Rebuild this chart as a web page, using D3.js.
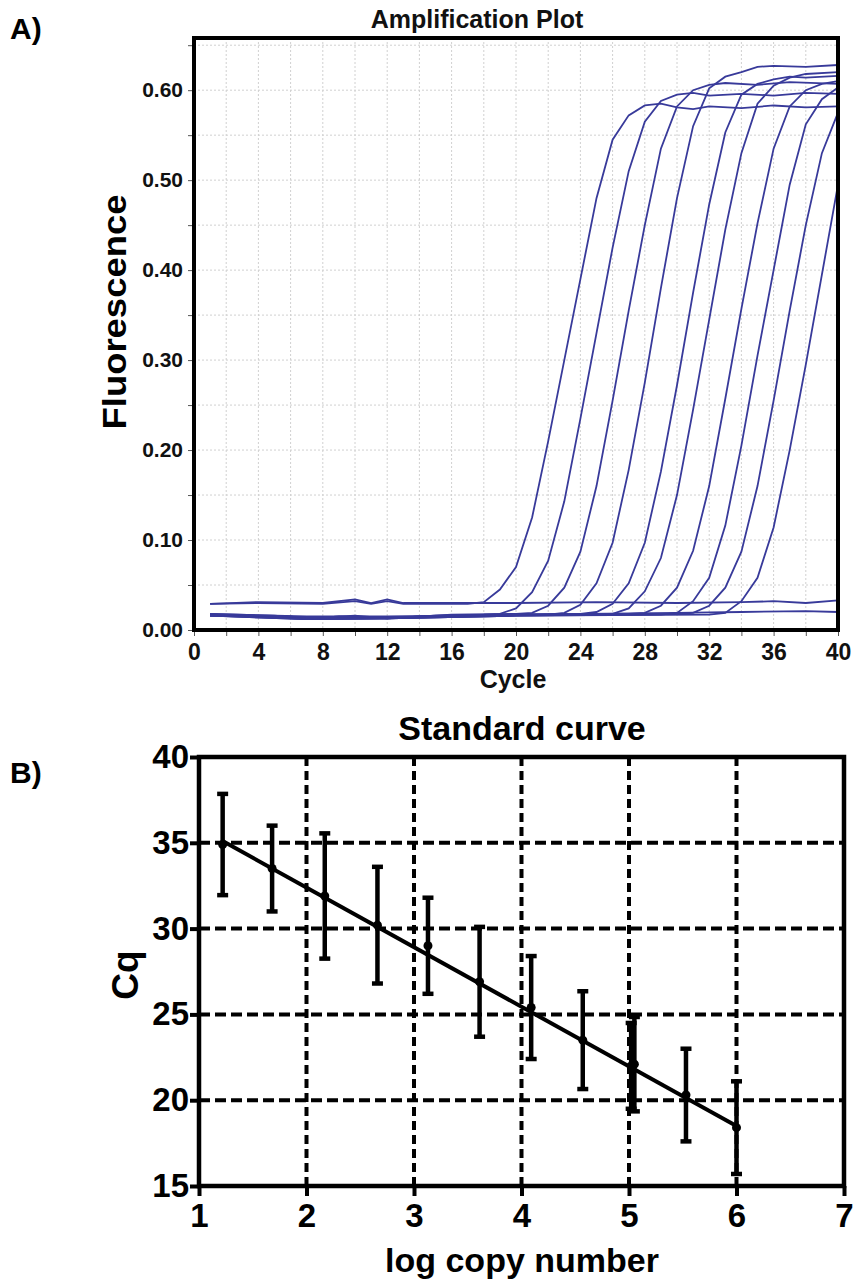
<!DOCTYPE html>
<html>
<head>
<meta charset="UTF-8">
<script src="https://cdn.jsdelivr.net/npm/d3@7"></script>
<style>
body{
    margin:0;
    background:#fff;
    font-family: "Liberation Sans", Arial, sans-serif;
}
</style>
</head>
<body>
<script>
// amplification curves: [cycle, fluorescence]
var curve1 = [[1,0.029],[4,0.030],[8,0.029],[10,0.032],[11,0.029],[12,0.032],[13,0.029],[17,0.029],[18,0.031],[19,0.045],[20,0.07],[21,0.125],[22,0.21],[23,0.30],[24,0.39],[25,0.48],[26,0.545],[27,0.572],[28,0.583],[29,0.585],[30,0.581],[31,0.579],[32,0.582],[34,0.580],[36,0.583],[38,0.581],[40,0.582]]
var curve2 = [[1,0.016],[4,0.015],[7,0.012],[9,0.015],[12,0.013],[15,0.016],[18,0.017],[19,0.018],[20,0.024],[21,0.042],[22,0.077],[23,0.143],[24,0.235],[25,0.33],[26,0.425],[27,0.51],[28,0.565],[29,0.588],[30,0.595],[31,0.597],[32,0.594],[34,0.596],[36,0.594],[38,0.597],[40,0.596]]
var curve3 = [[1,0.018],[5,0.016],[7,0.013],[10,0.016],[12,0.013],[16,0.017],[20,0.018],[21,0.019],[22,0.027],[23,0.047],[24,0.087],[25,0.16],[26,0.255],[27,0.355],[28,0.45],[29,0.535],[30,0.582],[31,0.60],[32,0.606],[33,0.608],[35,0.606],[37,0.609],[40,0.607]]
var curve4 = [[1,0.016],[6,0.015],[7,0.012],[12,0.013],[18,0.016],[22,0.017],[23,0.019],[24,0.028],[25,0.052],[26,0.097],[27,0.178],[28,0.275],[29,0.38],[30,0.48],[31,0.56],[32,0.602],[33,0.615],[34,0.62],[35,0.626],[36,0.627],[38,0.626],[40,0.628]]
var curve5 = [[1,0.017],[7,0.013],[12,0.014],[20,0.017],[24,0.018],[25,0.02],[26,0.029],[27,0.052],[28,0.097],[29,0.176],[30,0.272],[31,0.375],[32,0.473],[33,0.553],[34,0.595],[35,0.607],[36,0.612],[37,0.615],[38,0.614],[40,0.616]]
var curve6 = [[1,0.016],[7,0.012],[12,0.013],[20,0.016],[25,0.017],[26,0.018],[27,0.024],[28,0.043],[29,0.08],[30,0.15],[31,0.245],[32,0.345],[33,0.445],[34,0.53],[35,0.585],[36,0.605],[37,0.614],[38,0.618],[40,0.62]]
var curve7 = [[1,0.017],[7,0.014],[12,0.014],[20,0.017],[27,0.018],[28,0.019],[29,0.027],[30,0.047],[31,0.088],[32,0.16],[33,0.257],[34,0.357],[35,0.452],[36,0.535],[37,0.582],[38,0.60],[39,0.607],[40,0.61]]
var curve8 = [[1,0.016],[7,0.013],[12,0.013],[20,0.016],[29,0.017],[30,0.019],[31,0.032],[32,0.058],[33,0.116],[34,0.205],[35,0.305],[36,0.40],[37,0.495],[38,0.562],[39,0.59],[40,0.603]]
var curve9 = [[1,0.017],[7,0.014],[12,0.014],[20,0.017],[30,0.018],[31,0.019],[32,0.027],[33,0.047],[34,0.087],[35,0.16],[36,0.255],[37,0.355],[38,0.45],[39,0.53],[40,0.575]]
var curve10 = [[1,0.016],[7,0.012],[12,0.013],[20,0.016],[32,0.017],[33,0.019],[34,0.032],[35,0.058],[36,0.114],[37,0.20],[38,0.295],[39,0.395],[40,0.495]]
var ntc1 = [[1,0.029],[4,0.031],[8,0.030],[10,0.034],[11,0.030],[12,0.034],[13,0.030],[20,0.030],[25,0.031],[30,0.030],[34,0.031],[36,0.032],[38,0.030],[40,0.033]]
var ntc2 = [[1,0.018],[7,0.015],[12,0.015],[20,0.017],[30,0.019],[34,0.020],[38,0.021],[40,0.020]]
var curves = [curve1, curve2, curve3, curve4, curve5, curve6, curve7, curve8, curve9, curve10, ntc1, ntc2]

var cycleTicks = [0,4,8,12,16,20,24,28,32,36,40]
var fluorTicks = [0,0.1,0.2,0.3,0.4,0.5,0.6]

// standard curve
var logCopy = [1.22, 1.68, 2.17, 2.66, 3.13, 3.61, 4.09, 4.57, 5.02, 5.05, 5.53, 6.0]
var cqMean  = [34.9, 33.5, 31.9, 30.2, 29.0, 26.9, 25.4, 23.5, 22.0, 22.1, 20.3, 18.4]
var cqErr   = [2.95, 2.5, 3.65, 3.4, 2.8, 3.2, 3.0, 2.85, 2.5, 2.75, 2.7, 2.7]
var fitX = [1.22, 6.0]
var fitY = [35.1, 18.5]
var logTicks = [1,2,3,4,5,6,7]
var cqTicks = [15,20,25,30,35,40]

var width = 857, height = 1286
var svg = d3.select('body').append('svg')
    .attr('width', width)
    .attr('height', height)

svg.append('rect').attr('width', width).attr('height', height).attr('fill', 'white')

// ---------- panel A ----------
var x1 = d3.scaleLinear().domain([0, 40]).range([194, 838])
var y1 = d3.scaleLinear().domain([0, 0.658]).range([630, 38])

var gA = svg.append('g')

gA.selectAll('.vg').data(d3.range(2, 40, 2)).enter().append('line')
    .attr('x1', d => x1(d)).attr('x2', d => x1(d))
    .attr('y1', y1.range()[1]).attr('y2', y1.range()[0])
    .attr('stroke', '#d0d0d0').attr('stroke-width', 1).attr('stroke-dasharray', '2,2')
gA.selectAll('.hg').data(d3.range(0.05, 0.66, 0.05)).enter().append('line')
    .attr('x1', x1.range()[0]).attr('x2', x1.range()[1])
    .attr('y1', d => y1(d)).attr('y2', d => y1(d))
    .attr('stroke', '#d0d0d0').attr('stroke-width', 1).attr('stroke-dasharray', '2,2')

var line1 = d3.line().x(d => x1(d[0])).y(d => y1(d[1]))
gA.selectAll('.amp').data(curves).enter().append('path')
    .attr('d', line1)
    .attr('fill', 'none')
    .attr('stroke', '#383a9a')
    .attr('stroke-width', 1.8)

// axes
var xAxisA = d3.axisBottom(x1).tickValues(d3.range(0, 41, 2)).tickSize(6)
    .tickFormat(d => cycleTicks.indexOf(d) >= 0 ? d : '')
gA.append('g').attr('transform', 'translate(0,630)').call(xAxisA)
    .call(g => g.select('.domain').remove())
    .call(g => g.selectAll('line').attr('stroke', '#555'))
    .call(g => g.selectAll('text').attr('font-size', 23).attr('font-weight', 'bold')
        .attr('font-family', 'Liberation Sans, Arial').attr('fill', '#111').attr('dy', '0.9em'))

var yAxisA = d3.axisLeft(y1).tickValues(d3.range(0, 0.651, 0.05)).tickSize(6)
    .tickFormat(d => fluorTicks.some(t => Math.abs(t - d) < 1e-6) ? d3.format('.2f')(d) : '')
gA.append('g').attr('transform', 'translate(194,0)').call(yAxisA)
    .call(g => g.select('.domain').remove())
    .call(g => g.selectAll('line').attr('stroke', '#555'))
    .call(g => g.selectAll('text').attr('font-size', 21).attr('font-weight', 'bold')
        .attr('font-family', 'Liberation Sans, Arial').attr('fill', '#111').attr('x', -11))

gA.append('path')
    .attr('d', 'M194,38H838V630H194Z')
    .attr('fill', 'none').attr('stroke', '#000').attr('stroke-width', 4)

gA.append('text').attr('x', 477).attr('y', 28).attr('text-anchor', 'middle')
    .attr('font-size', 25).attr('font-weight', 'bold').attr('fill', '#111')
    .text('Amplification Plot')
gA.append('text').attr('x', 513).attr('y', 688).attr('text-anchor', 'middle')
    .attr('font-size', 25).attr('font-weight', 'bold').attr('fill', '#111')
    .text('Cycle')
gA.append('text').attr('transform', 'translate(126,312) rotate(-90)').attr('text-anchor', 'middle')
    .attr('font-size', 34).attr('font-weight', 'bold').attr('fill', '#000')
    .attr('textLength', 235).attr('lengthAdjust', 'spacingAndGlyphs')
    .text('Fluorescence')
svg.append('text').attr('x', 10).attr('y', 39)
    .attr('font-size', 30).attr('font-weight', 'bold').text('A)')

// ---------- panel B ----------
var x2 = d3.scaleLinear().domain([1, 7]).range([199, 844])
var y2 = d3.scaleLinear().domain([15, 40]).range([1186, 757])
var gB = svg.append('g')

gB.selectAll('.vg2').data(logTicks.slice(1, -1)).enter().append('line')
    .attr('x1', d => x2(d)).attr('x2', d => x2(d))
    .attr('y1', y2(40)).attr('y2', y2(15))
    .attr('stroke', 'black').attr('stroke-width', 4).attr('stroke-dasharray', '9,5')
gB.selectAll('.hg2').data(cqTicks.slice(1, -1)).enter().append('line')
    .attr('x1', x2(1)).attr('x2', x2(7))
    .attr('y1', d => y2(d)).attr('y2', d => y2(d))
    .attr('stroke', 'black').attr('stroke-width', 4).attr('stroke-dasharray', '11,5')

gB.append('line')
    .attr('x1', x2(fitX[0])).attr('y1', y2(fitY[0]))
    .attr('x2', x2(fitX[1])).attr('y2', y2(fitY[1]))
    .attr('stroke', 'black').attr('stroke-width', 4)

var pts = logCopy.map((v, i) => ({x: v, y: cqMean[i], e: cqErr[i]}))
var eb = gB.selectAll('.eb').data(pts).enter().append('g')
eb.append('line')
    .attr('x1', d => x2(d.x)).attr('x2', d => x2(d.x))
    .attr('y1', d => y2(d.y + d.e)).attr('y2', d => y2(d.y - d.e))
    .attr('stroke', 'black').attr('stroke-width', 4.5)
eb.append('line')
    .attr('x1', d => x2(d.x) - 5.5).attr('x2', d => x2(d.x) + 5.5)
    .attr('y1', d => y2(d.y + d.e)).attr('y2', d => y2(d.y + d.e))
    .attr('stroke', 'black').attr('stroke-width', 4.5)
eb.append('line')
    .attr('x1', d => x2(d.x) - 5.5).attr('x2', d => x2(d.x) + 5.5)
    .attr('y1', d => y2(d.y - d.e)).attr('y2', d => y2(d.y - d.e))
    .attr('stroke', 'black').attr('stroke-width', 4.5)
eb.append('circle')
    .attr('cx', d => x2(d.x)).attr('cy', d => y2(d.y)).attr('r', 4.5)
    .attr('fill', 'black')

var xAxisB = d3.axisBottom(x2).tickValues(logTicks).tickSize(10).tickFormat(d3.format('d'))
gB.append('g').attr('transform', 'translate(0,1186)').call(xAxisB)
    .call(g => g.select('.domain').remove())
    .call(g => g.selectAll('line').attr('stroke', 'black').attr('stroke-width', 4))
    .call(g => g.selectAll('text').attr('font-size', 33).attr('font-weight', 'bold')
        .attr('font-family', 'Liberation Sans, Arial').attr('fill', '#000').attr('dy', '0.85em'))
var yAxisB = d3.axisLeft(y2).tickValues(cqTicks).tickSize(9).tickFormat(d3.format('d'))
gB.append('g').attr('transform', 'translate(199,0)').call(yAxisB)
    .call(g => g.select('.domain').remove())
    .call(g => g.selectAll('line').attr('stroke', 'black').attr('stroke-width', 4))
    .call(g => g.selectAll('text').attr('font-size', 33).attr('font-weight', 'bold')
        .attr('font-family', 'Liberation Sans, Arial').attr('fill', '#000').attr('x', -10))

gB.append('path')
    .attr('d', 'M199,757H844V1186H199Z')
    .attr('fill', 'none').attr('stroke', '#000').attr('stroke-width', 4.5)

gB.append('text').attr('x', 522).attr('y', 740).attr('text-anchor', 'middle')
    .attr('font-size', 34).attr('font-weight', 'bold').text('Standard curve')
gB.append('text').attr('x', 522).attr('y', 1272).attr('text-anchor', 'middle')
    .attr('font-size', 34).attr('font-weight', 'bold').text('log copy number')
gB.append('text').attr('transform', 'translate(138,975) rotate(-90)').attr('text-anchor', 'middle')
    .attr('font-size', 37).attr('font-weight', 'bold').text('Cq')
svg.append('text').attr('x', 10).attr('y', 783)
    .attr('font-size', 30).attr('font-weight', 'bold').text('B)')
</script>
</body>
</html>
